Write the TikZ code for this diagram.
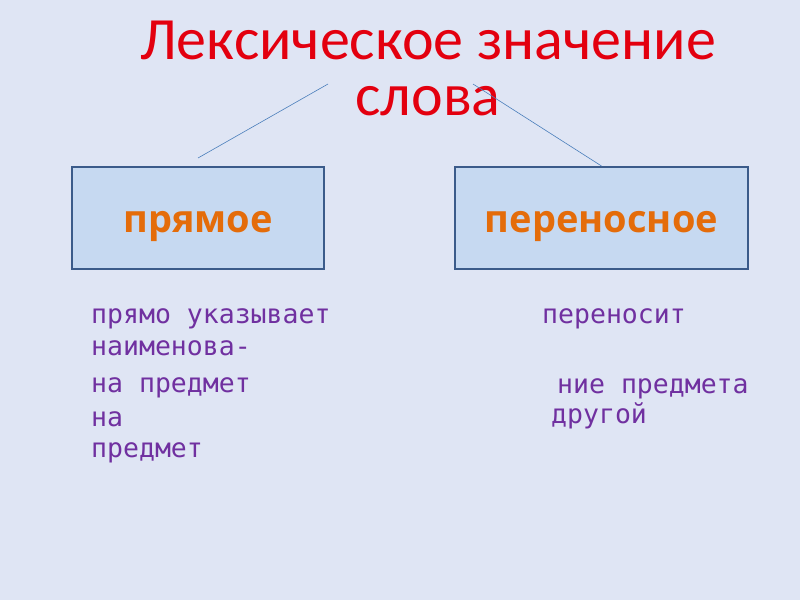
\documentclass[tikz,border=0pt]{standalone}
\usepackage{fontspec}
\setmainfont{Carlito}
\newfontfamily\kindfont{Open Sans}
\newfontfamily\notefont{DejaVu Sans Mono}
\usetikzlibrary{positioning}
\definecolor{slidebg}{HTML}{DFE5F4}
\definecolor{titlered}{HTML}{E3000F}
\definecolor{boxfill}{HTML}{C6D9F1}
\definecolor{boxline}{HTML}{3B5B8A}
\definecolor{kindorange}{HTML}{E46C0A}
\definecolor{notepurple}{HTML}{7030A0}
\definecolor{linkblue}{HTML}{4A7EBB}
\tikzset {
    title/.style = {text = titlered, inner sep = 0pt, anchor = base,
        font = \fontsize{60}{60}\selectfont},
    kind/.style = {draw = boxline, line width = 2pt, fill = boxfill,
        minimum height = 102pt, inner sep = 0pt, text = kindorange,
        text height = 28pt, text depth = 0pt,
        font = \kindfont\bfseries\fontsize{38}{38}\selectfont},
    note/.style = {text = notepurple, inner sep = 0pt, anchor = base west,
        font = \notefont\fontsize{26.5}{26.5}\selectfont},
    link/.style = {draw = linkblue, line width = 0.6pt}
}
\begin{document}
\begin{tikzpicture}[x = 1pt, y = -1pt]
    \fill [slidebg] (0, 0) rectangle (800, 600);
    \useasboundingbox (0, 0) rectangle (800, 600);
    % title
    \node (t1) [title] at (428, 59) {Лексическое значение};
    \node (t2) [title] at (428, 115) {слова};
    % two kinds
    \node (direct) [kind, minimum width = 252pt] at (198, 218) {прямое};
    \node (figurative) [kind, minimum width = 293pt] at (601.5, 218) {переносное};
    \coordinate (ltop) at (328, 84);
    \coordinate (rtop) at (473, 84);
    \draw [link] (ltop) -- ([yshift = 8pt]direct.north);
    \draw [link] (rtop) -- (figurative.north);
    % notes
    \node (d1) [note] at (91, 323) {прямо указывает};
    \node (d2) [note] at (91, 355) {наименова-};
    \node (d3) [note] at (91, 392) {на предмет};
    \node (d4) [note] at (91, 426) {на};
    \node (d5) [note] at (91, 457) {предмет};
    \node (f1) [note] at (542, 323) {переносит};
    \node (f2) [note] at (557, 393) {ние предмета};
    \node (f3) [note] at (551, 423) {другой};
\end{tikzpicture}
\end{document}
